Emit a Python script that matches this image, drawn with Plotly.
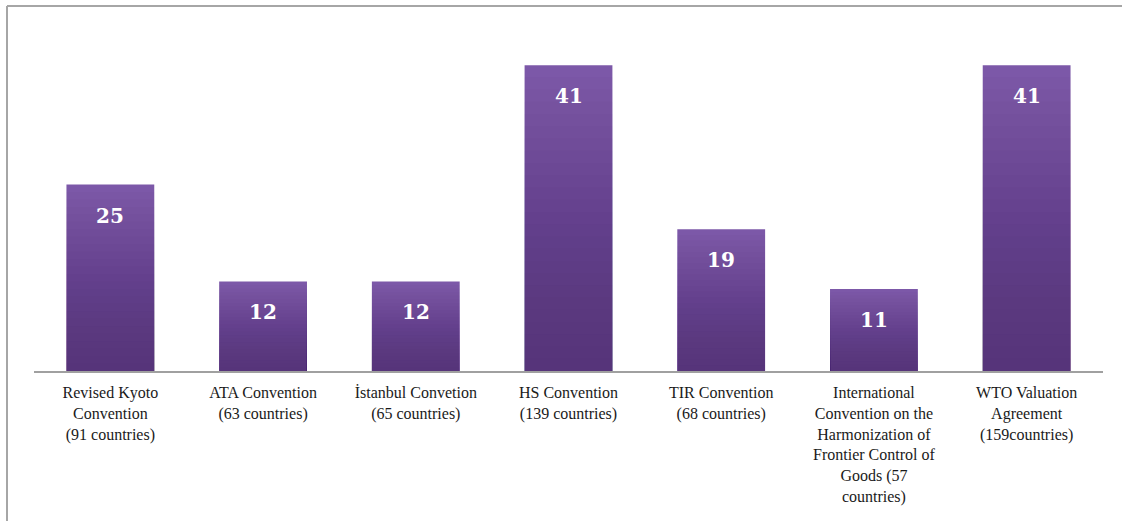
import plotly.graph_objects as go

categories = [
    "Revised Kyoto<br>Convention<br>(91 countries)",
    "ATA Convention<br>(63 countries)",
    "İstanbul Convetion<br>(65 countries)",
    "HS Convention<br>(139 countries)",
    "TIR Convention<br>(68 countries)",
    "International<br>Convention on the<br>Harmonization of<br>Frontier Control of<br>Goods (57<br>countries)",
    "WTO Valuation<br>Agreement<br>(159countries)",
]
values = [25, 12, 12, 41, 19, 11, 41]

W, H = 1122, 521
ml, mr, mt, mb = 34, 19, 20, 150

fig = go.Figure()
# base bar (light top colour)
fig.add_trace(go.Bar(x=categories, y=values, marker=dict(color="#7c58a8", line=dict(width=0)),
                     hoverinfo="skip"))
# gradient overlays: darker towards the bottom of each bar
N = 24
for i in range(1, N + 1):
    frac = 1 - i / (N + 1)
    fig.add_trace(go.Bar(x=categories, y=[v * frac for v in values],
                         marker=dict(color="rgba(70,40,105,0.032)", line=dict(width=0)),
                         hoverinfo="skip"))

for c, v in zip(categories, values):
    fig.add_annotation(x=c, y=v, text=str(v), showarrow=False, yanchor="middle", yshift=-31,
                       font=dict(family="DejaVu Serif", size=20, color="white", weight="bold"))

pw = W - ml - mr
ph = H - mt - mb
def px_x(p):
    return (p - ml) / pw
def px_y(p):
    return (H - mb - p) / ph

line = dict(color="#a6a6a6", width=2)
fig.add_shape(type="line", xref="paper", yref="paper", x0=px_x(7), x1=px_x(1122), y0=px_y(6), y1=px_y(6), line=line)
fig.add_shape(type="line", xref="paper", yref="paper", x0=px_x(7), x1=px_x(7), y0=px_y(6), y1=px_y(521), line=line)

fig.update_layout(
    width=W, height=H, barmode="overlay", bargap=0.425, showlegend=False,
    margin=dict(l=ml, r=mr, t=mt, b=mb),
    plot_bgcolor="white", paper_bgcolor="white",
    xaxis=dict(showline=True, linecolor="#a0a0a0", linewidth=1.5, ticks="", showgrid=False,
               ticklabelstandoff=6,
               tickfont=dict(family="'Liberation Serif', 'Times New Roman', serif", size=16, color="#1a1a1a")),
    yaxis=dict(range=[0, 47.05], visible=False, showgrid=False),
)
fig.write_html("out.html")
